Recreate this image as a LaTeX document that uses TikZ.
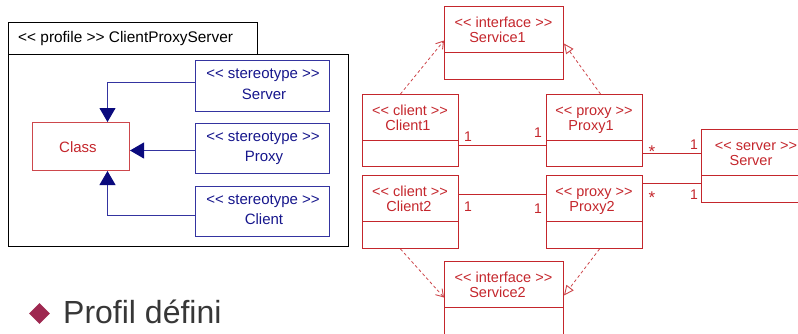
\documentclass[tikz,border=0pt]{standalone}
\usepackage{fontspec}
\setmainfont{Liberation Sans}[Ligatures=TeXOff]
\usetikzlibrary{arrows.meta,shapes.geometric}

\definecolor{umlred}{RGB}{196,38,44}
\definecolor{dashred}{RGB}{205,70,75}
\definecolor{navyline}{RGB}{52,52,160}
\definecolor{navytext}{RGB}{22,22,140}
\definecolor{navytip}{RGB}{10,10,125}
\definecolor{bulletcol}{RGB}{158,40,80}
\definecolor{bodytext}{RGB}{55,55,55}

\tikzset{
  pkgline/.style={draw=black, line width=0.9pt},
  stereobox/.style={draw=navyline, line width=1pt, rectangle, inner sep=0pt, anchor=north west},
  stereotext/.style={text=navytext, font=\fontsize{15}{16}\selectfont, inner sep=0pt, anchor=base},
  metabox/.style={draw=umlred!85, line width=1pt, rectangle, inner sep=0pt, anchor=north west},
  gen/.style={draw=navyline, line width=1pt, -{Triangle[length=14pt,width=16pt,fill=navytip,color=navytip]}},
  classbox/.style={draw=umlred, line width=1pt, rectangle, inner sep=0pt, anchor=north west},
  classtext/.style={text=umlred, font=\fontsize{14.5}{15}\selectfont, inner sep=0pt, anchor=base},
  assoc/.style={draw=umlred, line width=0.9pt},
  multlabel/.style={text=umlred, font=\fontsize{14}{15}\selectfont, inner sep=0pt, anchor=base},
  starlabel/.style={multlabel, font=\fontsize{17}{18}\selectfont},
  depend/.style={draw=dashred, line width=0.8pt, dash pattern=on 3pt off 2.5pt, -{Straight Barb[length=7pt,width=9pt,line width=0.9pt]}},
  realize/.style={draw=dashred, line width=0.8pt, dash pattern=on 3pt off 2.5pt, -{Triangle[open,length=10pt,width=9pt,line width=0.9pt,fill=white]}},
}

% UML class box with a name compartment and an empty attribute compartment
% #1 name, #2 x, #3 y (top), #4 width, #5 height, #6 compartment offset,
% #7 stereotype, #8 class name, #9 horizontal offset of the class name
\newcommand\umlclassbox[9]{%
  \node[classbox, minimum width=#4pt, minimum height=#5pt] (#1) at (#2,#3) {};
  \draw[umlred, line width=1pt] (#2,#3+#6) -- (#2+#4,#3+#6);
  \node[classtext] (#1-st) at (#2+#4/2,#3+21) {#7};
  \node[classtext] (#1-nm) at (#2+#4/2+#9,#3+36) {#8};
}

\begin{document}
\begin{tikzpicture}[x=1pt,y=-1pt]
\useasboundingbox (0,0) rectangle (798,333);
\clip (0,0) rectangle (798,333);

% ---------------- profile package ----------------
\node[pkgline, rectangle, inner sep=0pt, anchor=north west, minimum width=249pt, minimum height=32pt] (tab) at (8,22) {};
\node[pkgline, rectangle, inner sep=0pt, anchor=north west, minimum width=340pt, minimum height=192pt] (pkg) at (8,54) {};
\node[font=\fontsize{15.4}{16}\selectfont, inner sep=0pt, anchor=base west] (pkgname) at (18,42.5) {<< profile >> ClientProxyServer};

\node[metabox, minimum width=97pt, minimum height=48pt] (cls) at (32,122) {};
\node[text=umlred, font=\fontsize{15}{16}\selectfont, inner sep=0pt, anchor=base] (clsname) at (78,152.5) {Class};

\node[stereobox, minimum width=134pt, minimum height=51pt] (stsrv) at (195,60) {};
\node[stereotext] (stsrv-st) at (263,78) {<< stereotype >>};
\node[stereotext] (stsrv-nm) at (264,99) {Server};

\node[stereobox, minimum width=134pt, minimum height=50pt] (stprx) at (195,123) {};
\node[stereotext] (stprx-st) at (263,141) {<< stereotype >>};
\node[stereotext] (stprx-nm) at (264,161.5) {Proxy};

\node[stereobox, minimum width=134pt, minimum height=50pt] (stcli) at (195,186) {};
\node[stereotext] (stcli-st) at (263,204) {<< stereotype >>};
\node[stereotext] (stcli-nm) at (264,224.5) {Client};

\coordinate (g1) at ([yshift=3.5pt]stsrv.west);
\coordinate (g2) at ([yshift=-2pt]stprx.west);
\coordinate (g3) at ([yshift=-4pt]stcli.west);
\draw[gen] (g1) -| ([xshift=26.5pt]cls.north);
\draw[gen] (g2) -- (g2 -| cls.east);
\draw[gen] (g3) -| ([xshift=26.5pt]cls.south);

% ---------------- client / proxy / server model ----------------
\umlclassbox{svc1}{444}{6}{119}{73}{46}{<< interface >>}{Service1}{-6}
\umlclassbox{cli1}{362}{94}{96}{72}{46}{<< client >>}{Client1}{-2}
\umlclassbox{prx1}{546}{94}{96}{72}{46}{<< proxy >>}{Proxy1}{-3}
\umlclassbox{srv}{701}{129}{110}{73}{46}{<< server >>}{Server}{-5}
\umlclassbox{cli2}{362}{175}{96}{73}{46}{<< client >>}{Client2}{-1}
\umlclassbox{prx2}{546}{175}{96}{73}{46}{<< proxy >>}{Proxy2}{-2}
\umlclassbox{svc2}{444}{261}{119}{80}{46}{<< interface >>}{Service2}{-6}

% associations
\coordinate (a1) at ([yshift=-15pt]cli1.east);
\draw[assoc] (a1) -- (a1 -| prx1.west);
\coordinate (a2) at ([yshift=-23pt]prx1.east);
\draw[assoc] (a2) -- (a2 -| srv.west);
\coordinate (a3) at ([yshift=18pt]cli2.east);
\draw[assoc] (a3) -- (a3 -| prx2.west);
\coordinate (a4) at ([yshift=28.5pt]prx2.east);
\draw[assoc] (a4) -- (a4 -| srv.west);

\node[multlabel] (m1) at (468,141) {1};
\node[multlabel] (m2) at (538,137) {1};
\node[starlabel] (m3) at (652,157) {*};
\node[multlabel] (m4) at (694,149) {1};
\node[multlabel] (m5) at (468,211) {1};
\node[multlabel] (m6) at (538,213) {1};
\node[starlabel] (m7) at (652,203) {*};
\node[multlabel] (m8) at (694,199) {1};

% dependencies and realizations
\draw[depend] ([xshift=-10pt]cli1.north) -- ([yshift=2.5pt]svc1.west);
\draw[realize] ([xshift=6pt]prx1.north) -- ([yshift=-0.5pt]svc1.east);
\draw[depend] ([xshift=-10pt]cli2.south) -- ([yshift=4pt]svc2.west);
\draw[realize] ([xshift=5pt]prx2.south) -- ([yshift=6pt]svc2.east);

% ---------------- bullet line ----------------
\node[diamond, fill=bulletcol, inner sep=0pt, minimum width=21pt, minimum height=21pt] (bullet) at (39.5,313.5) {};
\node[text=bodytext, font=\fontsize{32}{34}\selectfont, inner sep=0pt, anchor=base west] (bullettext) at (63,323) {Profil défini};
\end{tikzpicture}
\end{document}
